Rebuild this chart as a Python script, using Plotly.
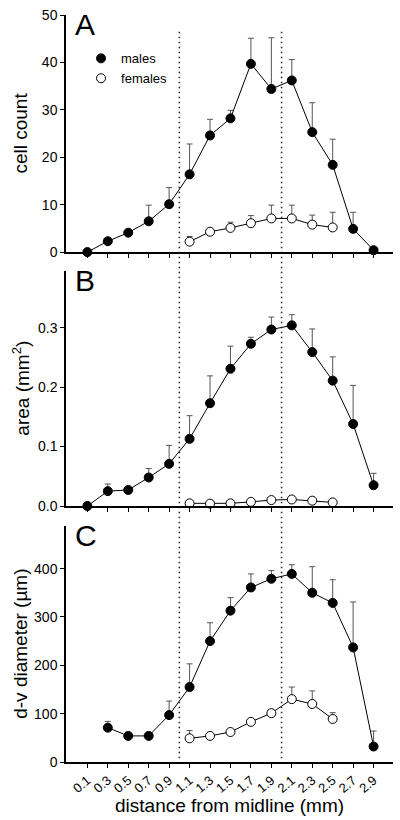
import plotly.graph_objects as go

# ---------------- data ----------------
x_all = [0.1, 0.3, 0.5, 0.7, 0.9, 1.1, 1.3, 1.5, 1.7, 1.9, 2.1, 2.3, 2.5, 2.7, 2.9]
x_fem = [1.1, 1.3, 1.5, 1.7, 1.9, 2.1, 2.3, 2.5]
x_c_males = [0.3, 0.5, 0.7, 0.9, 1.1, 1.3, 1.5, 1.7, 1.9, 2.1, 2.3, 2.5, 2.7, 2.9]
tick_vals = [0.1, 0.3, 0.5, 0.7, 0.9, 1.1, 1.3, 1.5, 1.7, 1.9, 2.1, 2.3, 2.5, 2.7, 2.9]
tick_text = ["0.1", "0.3", "0.5", "0.7", "0.9", "1.1", "1.3", "1.5", "1.7", "1.9",
             "2.1", "2.3", "2.5", "2.7", "2.9"]
boundaries = [1.0, 2.0]

# A: cell count
count_m = [0, 2.3, 4.1, 6.5, 10.1, 16.4, 24.6, 28.2, 39.7, 34.4, 36.2, 25.3, 18.4, 4.9, 0.4]
count_m_sem = [0, 0.7, 0.2, 3.4, 3.5, 6.4, 3.4, 1.7, 5.4, 10.8, 4.4, 6.2, 5.4, 3.5, 0]
count_f = [2.2, 4.3, 5.1, 6.1, 7.1, 7.1, 5.8, 5.2]
count_f_sem = [1.1, 0.3, 1.2, 1.6, 2.8, 2.8, 2.0, 3.2]

# B: area (mm^2)
area_m = [0, 0.025, 0.027, 0.048, 0.071, 0.113, 0.173, 0.231, 0.273, 0.297, 0.304,
          0.259, 0.211, 0.138, 0.035]
area_m_sem = [0, 0.012, 0.002, 0.015, 0.031, 0.039, 0.046, 0.038, 0.011, 0.021, 0.018,
              0.039, 0.040, 0.065, 0.020]
area_f = [0.0045, 0.004, 0.0045, 0.007, 0.010, 0.011, 0.009, 0.006]
area_f_sem = [0.001, 0.001, 0.001, 0.001, 0.001, 0.001, 0.001, 0.001]

# C: d-v diameter (um)
diam_m = [71, 54, 54, 97, 155, 250, 313, 361, 379, 389, 350, 329, 237, 32]
diam_m_sem = [13, 2, 2, 29, 48, 38, 27, 28, 17, 19, 54, 48, 94, 32]
diam_f = [49, 54, 62, 83, 101, 130, 120, 89]
diam_f_sem = [16, 3, 3, 3, 6, 25, 27, 13]

# ---------------- figure ----------------
fig = go.Figure()

FONT = "Liberation Sans, Arial, sans-serif"
ERR_COLOR = "#555555"
MSIZE = 9


def add_series(x, y, sem, filled, xa, ya):
    fig.add_trace(go.Scatter(
        x=x, y=y, mode="lines+markers",
        line=dict(color="black", width=1),
        marker=dict(size=MSIZE, color="black" if filled else "white",
                    line=dict(color="black", width=1)),
        error_y=dict(type="data", symmetric=False, array=sem,
                     arrayminus=[0] * len(sem), color=ERR_COLOR,
                     thickness=1, width=3),
        xaxis=xa, yaxis=ya, showlegend=False, cliponaxis=False,
    ))


add_series(x_all, count_m, count_m_sem, True, "x", "y")
add_series(x_fem, count_f, count_f_sem, False, "x", "y")
add_series(x_all, area_m, area_m_sem, True, "x2", "y2")
add_series(x_fem, area_f, area_f_sem, False, "x2", "y2")
add_series(x_c_males, diam_m, diam_m_sem, True, "x3", "y3")
add_series(x_fem, diam_f, diam_f_sem, False, "x3", "y3")

# legend-only entries
fig.add_trace(go.Scatter(x=[None], y=[None], mode="markers", name="males",
                         marker=dict(size=MSIZE, color="black", line=dict(color="black", width=1))))
fig.add_trace(go.Scatter(x=[None], y=[None], mode="markers", name="females",
                         marker=dict(size=MSIZE, color="white", line=dict(color="black", width=1))))

xr = [-0.109, 3.09]
xcommon = dict(range=xr, showline=True, linecolor="black", linewidth=1.5,
               ticks="outside", ticklen=4, tickcolor="black", tickwidth=1,
               tickvals=tick_vals, ticktext=tick_text, showgrid=False, zeroline=False,
               domain=[0, 1], fixedrange=True)
ycommon = dict(showline=True, linecolor="black", linewidth=1.5, ticks="outside",
               ticklen=4, tickcolor="black", tickwidth=1, showgrid=False,
               zeroline=False, tickfont=dict(size=14, family=FONT, color="black"))

fig.update_layout(
    width=400, height=820,
    margin=dict(l=66, r=7, t=10, b=58),
    paper_bgcolor="white", plot_bgcolor="white",
    font=dict(family=FONT, color="black"),
    xaxis=dict(**xcommon, anchor="y", showticklabels=False),
    xaxis2=dict(**xcommon, anchor="y2", showticklabels=False),
    xaxis3=dict(**xcommon, anchor="y3", showticklabels=True, tickangle=-40,
                tickfont=dict(size=13, family=FONT, color="black")),
    yaxis=dict(**ycommon, anchor="x", domain=[0.6826, 1.0], range=[0, 50], dtick=10),
    yaxis2=dict(**ycommon, anchor="x2", domain=[0.3427, 0.6569], range=[0, 0.395],
                tickvals=[0, 0.1, 0.2, 0.3], tickformat=".1f"),
    yaxis3=dict(**ycommon, anchor="x3", domain=[0, 0.3165], range=[0, 489],
                tickvals=[0, 100, 200, 300, 400]),
    legend=dict(x=0.046, y=0.962, xanchor="left", yanchor="top",
                font=dict(size=13, family=FONT, color="black"),
                bgcolor="rgba(0,0,0,0)", borderwidth=0),
    showlegend=True,
)

# dotted boundary lines across all panels
for b in boundaries:
    fig.add_shape(type="line", xref="x", yref="paper", x0=b, x1=b, y0=0.005, y1=0.98,
                  line=dict(color="#222222", width=1.5, dash="1.5px,3.5px"))

# panel letters
shift = 9 / 752
for letter, ytop in [("A", 1.0), ("B", 0.6569), ("C", 0.3165)]:
    fig.add_annotation(text=letter, xref="paper", yref="paper", x=0.02, y=ytop + shift,
                       xanchor="left", yanchor="top", showarrow=False,
                       font=dict(size=30, family=FONT, color="black"))

# axis titles
xt = (21 - 66) / 327
for title, yc in [("cell count", (1.0 + 0.6826) / 2),
                  ("area (mm<sup>2</sup>)", (0.3427 + 0.6569) / 2),
                  ("d-v diameter (µm)", 0.3165 / 2)]:
    fig.add_annotation(text=title, xref="paper", yref="paper", x=xt, y=yc,
                       xanchor="center", yanchor="middle", textangle=-90,
                       showarrow=False, font=dict(size=19, family=FONT, color="black"))

fig.add_annotation(text="distance from midline (mm)", xref="paper", yref="paper",
                   x=(230 - 66) / 327, y=(762 - 806) / 752, xanchor="center",
                   yanchor="middle", showarrow=False,
                   font=dict(size=19, family=FONT, color="black"))

fig.write_html("out.html", config={"displayModeBar": False},
               post_script="document.body.style.margin='0';document.body.style.padding='0';")
